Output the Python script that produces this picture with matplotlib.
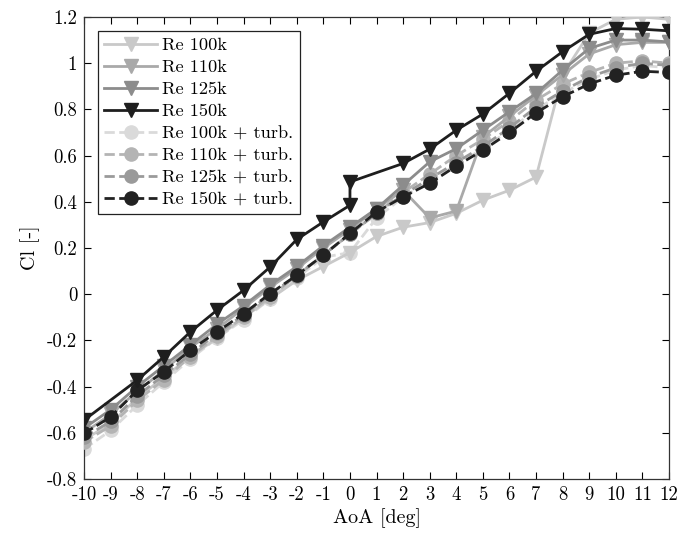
import matplotlib
matplotlib.use("Agg")
import matplotlib.pyplot as plt

plt.rcParams['font.family'] = ['cmr10', 'DejaVu Serif']
plt.rcParams['axes.unicode_minus'] = False
plt.rcParams['mathtext.fontset'] = 'cm'

aoa = [-10, -9, -8, -7, -6, -5, -4, -3, -2, -1, 0, 1, 2, 3, 4, 5, 6, 7, 8, 9, 10, 11, 12]

# Re 150k was measured without -9 and +1, with two readings at 0 deg
aoa_150 = [-10, -8, -7, -6, -5, -4, -3, -2, -1, 0, 0, 2, 3, 4, 5, 6, 7, 8, 9, 10, 11, 12]

cl_100 = [-0.63, -0.56, -0.45, -0.36, -0.27, -0.19, -0.10, -0.02, 0.06, 0.12, 0.18, 0.25,
          0.29, 0.31, 0.35, 0.407, 0.45, 0.507, 0.95, 1.13, 1.19, 1.20, 1.19]
cl_110 = [-0.60, -0.52, -0.42, -0.33, -0.23, -0.15, -0.06, 0.03, 0.11, 0.20, 0.28, 0.37,
          0.45, 0.33, 0.36, 0.68, 0.77, 0.86, 0.95, 1.04, 1.08, 1.09, 1.09]
cl_125 = [-0.58, -0.50, -0.40, -0.31, -0.22, -0.13, -0.05, 0.04, 0.12, 0.21, 0.29, 0.37,
          0.472, 0.573, 0.63, 0.71, 0.79, 0.869, 0.97, 1.064, 1.10, 1.10, 1.092]
cl_150 = [-0.545, -0.372, -0.271, -0.163, -0.069, 0.017, 0.118, 0.237, 0.313, 0.385, 0.486,
          0.566, 0.628, 0.71, 0.78, 0.87, 0.965, 1.05, 1.125, 1.15, 1.147, 1.14]

cl_100t = [-0.67, -0.59, -0.48, -0.38, -0.28, -0.19, -0.11, -0.02, 0.07, 0.16, 0.18, 0.33,
           0.42, 0.49, 0.56, 0.63, 0.71, 0.80, 0.87, 0.93, 0.97, 0.99, 0.98]
cl_110t = [-0.64, -0.57, -0.46, -0.37, -0.27, -0.18, -0.10, -0.01, 0.08, 0.17, 0.26, 0.35,
           0.44, 0.52, 0.60, 0.67, 0.75, 0.84, 0.91, 0.96, 1.00, 1.01, 1.00]
cl_125t = [-0.62, -0.55, -0.44, -0.35, -0.26, -0.17, -0.09, 0.00, 0.08, 0.17, 0.26, 0.35,
           0.43, 0.50, 0.57, 0.64, 0.72, 0.81, 0.88, 0.94, 0.98, 1.00, 0.99]
cl_150t = [-0.603, -0.531, -0.416, -0.336, -0.242, -0.163, -0.084, 0.003, 0.082, 0.169, 0.263,
           0.356, 0.421, 0.48, 0.555, 0.623, 0.70, 0.785, 0.855, 0.91, 0.948, 0.965, 0.96]

labels = ['Re 100k', 'Re 110k', 'Re 125k', 'Re 150k',
          'Re 100k + turb.', 'Re 110k + turb.', 'Re 125k + turb.', 'Re 150k + turb.']

fig = plt.figure(figsize=(6.95, 5.39), dpi=100)
ax = fig.add_axes([0.121, 0.1113, 0.8416, 0.8572])

series = [
    (aoa, cl_100, '#c9c9c9', '-', 'v', 3),
    (aoa, cl_110, '#a9a9a9', '-', 'v', 5),
    (aoa, cl_125, '#8c8c8c', '-', 'v', 7),
    (aoa_150, cl_150, '#1e1e1e', '-', 'v', 9),
    (aoa, cl_100t, '#dadada', '--', 'o', 2),
    (aoa, cl_110t, '#b4b4b4', '--', 'o', 4),
    (aoa, cl_125t, '#9a9a9a', '--', 'o', 6),
    (aoa, cl_150t, '#222222', '--', 'o', 8),
]

for (x, y, c, ls, mk, z), lab in zip(series, labels):
    ax.plot(x, y, color=c, linestyle=ls, marker=mk, markersize=9.5,
            markerfacecolor=c, markeredgecolor=c, linewidth=2.0, label=lab, zorder=z)

ax.set_xlim(-10, 12)
ax.set_ylim(-0.8, 1.2)
ax.set_xticks(range(-10, 13))
ax.set_xticklabels([str(v) for v in range(-10, 13)])
yt = [-0.8, -0.6, -0.4, -0.2, 0, 0.2, 0.4, 0.6, 0.8, 1, 1.2]
ax.set_yticks(yt)
ax.set_yticklabels(['-0.8', '-0.6', '-0.4', '-0.2', '0', '0.2', '0.4', '0.6', '0.8', '1', '1.2'])
ax.tick_params(direction='in', top=True, right=True, length=5, width=0.8,
               labelsize=13.5, pad=5)
for s in ax.spines.values():
    s.set_linewidth(0.9)
    s.set_color('#333333')

ax.set_xlabel('AoA [deg]', fontsize=14.5, labelpad=3)
ax.set_ylabel('Cl [-]', fontsize=14.5, labelpad=5)

leg = ax.legend(loc='upper left', fontsize=13.2, frameon=True, fancybox=False,
                edgecolor='#222222', framealpha=1, handlelength=2.9,
                handletextpad=0.25, labelspacing=0.34, borderpad=0.35,
                borderaxespad=0.75)
leg.get_frame().set_linewidth(0.9)

fig.savefig('out.png', dpi=100)
